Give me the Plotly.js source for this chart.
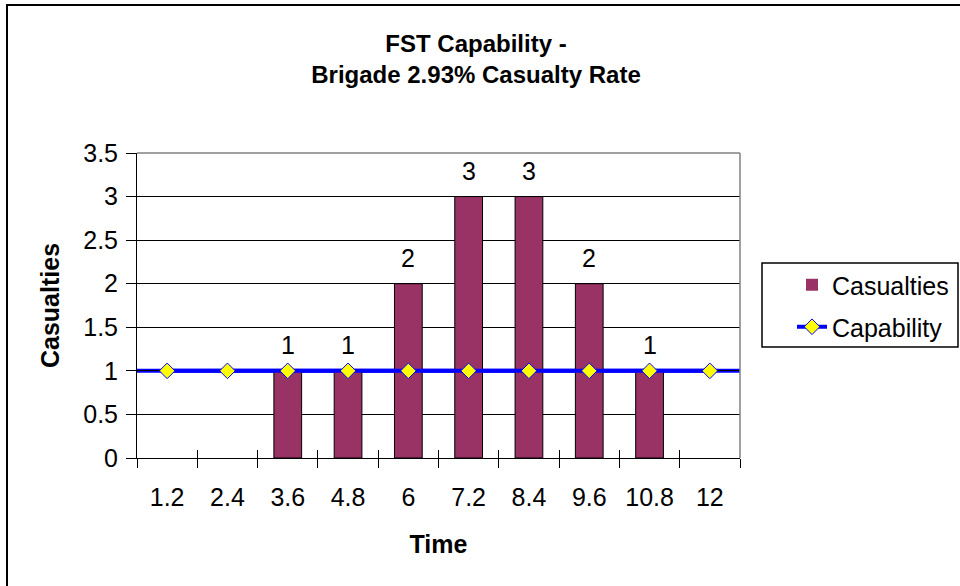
<!DOCTYPE html>
<html>
<head>
<meta charset="utf-8">
<script src="https://cdn.plot.ly/plotly-3.0.1.min.js"></script>
<style>html,body{margin:0;padding:0;background:#fff;}#chart{width:960px;height:586px;}</style>
</head>
<body>
<div id="chart"></div>
<script>
const timeLabels = ["1.2","2.4","3.6","4.8","6","7.2","8.4","9.6","10.8","12"];
const casualties = [0,0,1,1,2,3,3,2,1,0];
const capability = [1,1,1,1,1,1,1,1,1,1];
const yTicks = [0,0.5,1,1.5,2,2.5,3,3.5];

const FONT = "Liberation Sans, Arial, sans-serif";

// plot area in pixels
const L = 137, R = 740, T = 153, B = 458;
const W = 960, H = 586;
const px = v => (v - L) / (R - L);
const py = v => (B - v) / (B - T);

const traces = [
  {
    type: "bar", name: "Casualties", x: timeLabels, y: casualties,
    marker: {color: "#993366", line: {color: "#000000", width: casualties.map(v => v > 0 ? 1 : 0)}},
    legend: "legend", hoverinfo: "x+y"
  },
  {
    type: "scatter", mode: "lines+markers", name: "Capability",
    x: timeLabels, y: capability, xaxis: "x2", yaxis: "y2",
    line: {color: "#0000FF", width: 4},
    marker: {symbol: "diamond", size: 12, color: "#FFFF00", line: {color: "#0000FF", width: 1}},
    legend: "legend2"
  }
];

const annotations = [];
casualties.forEach((v, i) => {
  if (v > 0) annotations.push({
    x: i, y: v, xref: "x", yref: "y", text: String(v),
    showarrow: false, yanchor: "bottom", yshift: 10,
    font: {family: FONT, size: 25, color: "#000"}
  });
});

const axisCommon = {
  tickfont: {family: FONT, size: 25, color: "#000"},
  linecolor: "#000", linewidth: 1, showline: true, zeroline: false
};

const layout = {
  width: W, height: H,
  margin: {l: L, r: W - R, t: T, b: H - B},
  paper_bgcolor: "#fff", plot_bgcolor: "#fff",
  font: {family: FONT, color: "#000"},
  title: {
    text: "<b>FST Capability -<br>Brigade 2.93% Casualty Rate</b>",
    font: {family: FONT, size: 24, color: "#000"},
    xref: "container", x: 476 / W, xanchor: "center",
    yref: "container", y: 1 - 52 / H, yanchor: "top"
  },
  bargap: 0.54,
  xaxis: Object.assign({}, axisCommon, {
    type: "category", categoryorder: "array", categoryarray: timeLabels,
    range: [-0.5, timeLabels.length - 0.5],
    tickson: "boundaries", ticks: "outside", ticklen: 9, tickcolor: "#000", tickwidth: 1,
    ticklabelstandoff: 17, showgrid: false,
    title: {text: "<b>Time</b>", font: {family: FONT, size: 25, color: "#000"}, standoff: 25}
  }),
  yaxis: Object.assign({}, axisCommon, {
    range: [0, 3.5], tickvals: yTicks, ticks: "outside", ticklen: 10, tickcolor: "#000",
    ticklabelstandoff: 3,
    showgrid: true, gridcolor: "#000", gridwidth: 1,
    title: {text: "<b>Casualties</b>", font: {family: FONT, size: 25, color: "#000"}, standoff: 16}
  }),
  xaxis2: {
    matches: "x", overlaying: "x", anchor: "y2", side: "bottom",
    type: "category", categoryorder: "array", categoryarray: timeLabels,
    tickson: "boundaries", ticks: "inside", ticklen: 8, tickcolor: "#000", tickwidth: 1,
    showticklabels: false, showgrid: false, showline: false, zeroline: false
  },
  yaxis2: {
    matches: "y", overlaying: "y", anchor: "x2", side: "left",
    tickvals: yTicks, ticks: "inside", ticklen: 6, tickcolor: "#000",
    showticklabels: false, showgrid: false, showline: false, zeroline: false
  },
  legend: {
    xref: "container", yref: "container", x: 792 / W, y: 1 - 285 / H,
    xanchor: "left", yanchor: "middle", bgcolor: "rgba(0,0,0,0)", borderwidth: 0,
    font: {family: FONT, size: 25, color: "#000"}
  },
  legend2: {
    xref: "container", yref: "container", x: 792 / W, y: 1 - 327 / H,
    xanchor: "left", yanchor: "middle", bgcolor: "rgba(0,0,0,0)", borderwidth: 0,
    font: {family: FONT, size: 25, color: "#000"}
  },
  annotations: annotations,
  shapes: [
    {type: "rect", xref: "paper", yref: "paper", x0: px(7), x1: px(975), y0: py(5), y1: py(600),
     line: {color: "#000", width: 2}, layer: "below"},
    {type: "line", xref: "paper", yref: "paper", x0: 0, x1: 1, y0: 1, y1: 1,
     line: {color: "#808080", width: 1.5}, layer: "above"},
    {type: "line", xref: "paper", yref: "paper", x0: 1, x1: 1, y0: 0, y1: 1,
     line: {color: "#808080", width: 1.5}, layer: "above"},
    {type: "line", xref: "paper", yref: "y", x0: 0, x1: 1, y0: capability[0], y1: capability[capability.length - 1],
     line: {color: "#0000FF", width: 4}, layer: "below"},
    {type: "rect", xref: "paper", yref: "paper", x0: px(762), x1: px(958), y0: py(263), y1: py(347),
     line: {color: "#000", width: 1.5}, layer: "above"}
  ],
  showlegend: true
};

Plotly.newPlot("chart", traces, layout, {displayModeBar: false, staticPlot: true});
</script>
</body>
</html>
